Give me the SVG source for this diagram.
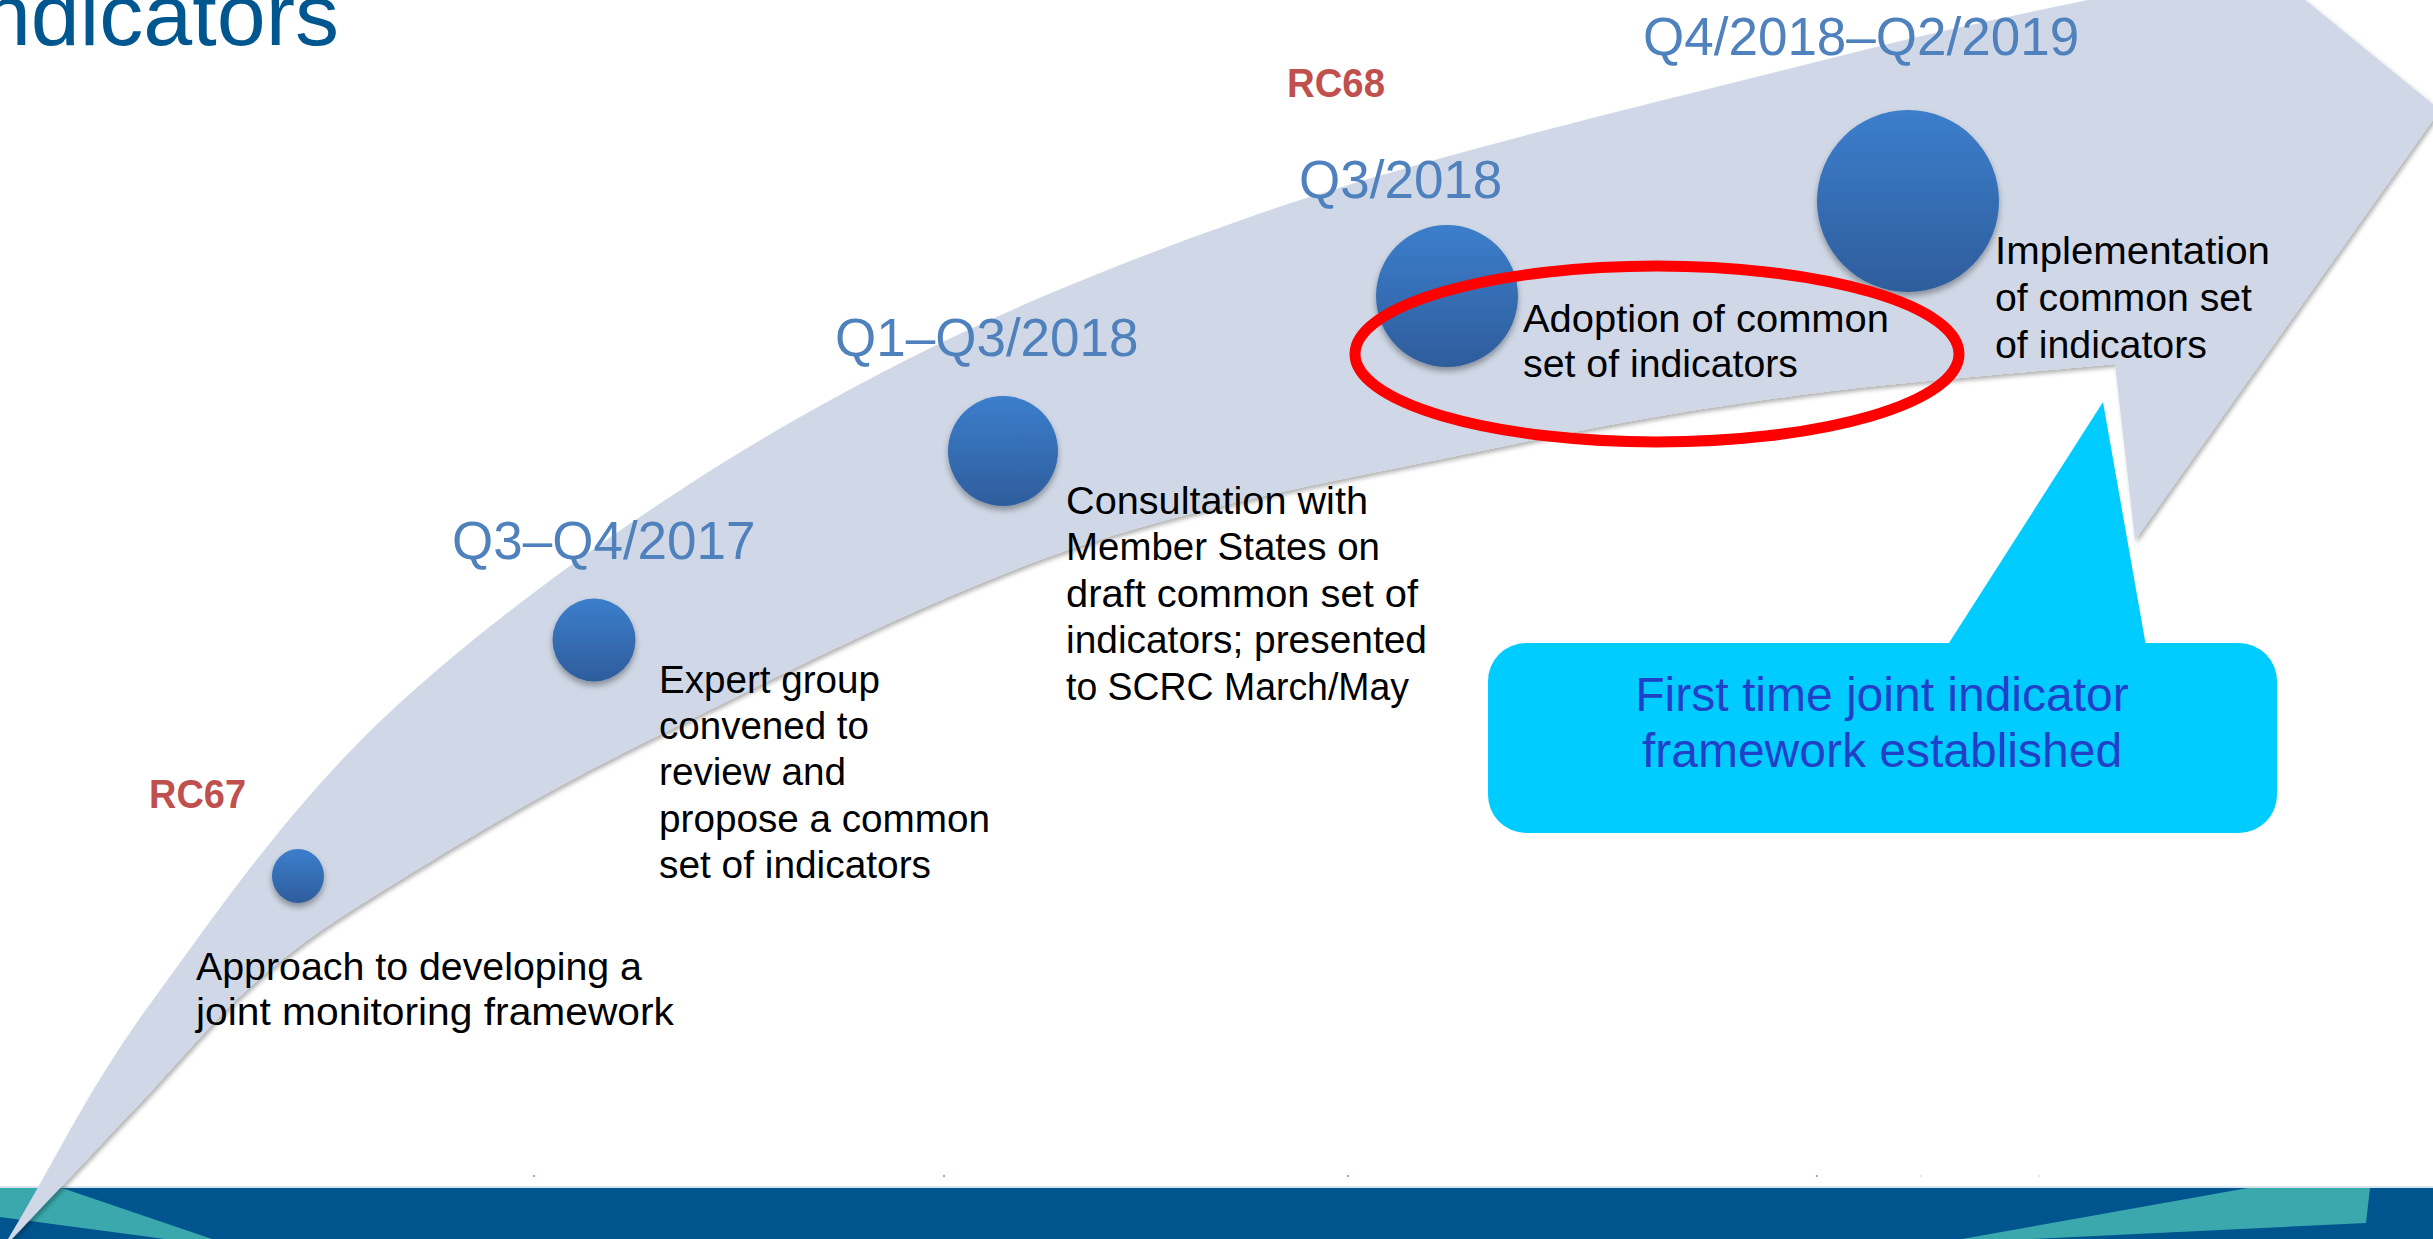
<svg xmlns="http://www.w3.org/2000/svg" width="2433" height="1239" viewBox="0 0 2433 1239">
  <defs>
    <style>
      .body { font-family: "Liberation Sans", Arial, sans-serif; font-size: 38px; fill: #000000; }
      .date { font-family: "Liberation Sans", Arial, sans-serif; font-size: 53px; fill: #4F81BD; }
      .rc { font-family: "Liberation Sans", Arial, sans-serif; font-size: 40px; font-weight: bold; fill: #C0504D; }
      .callout-text { font-family: "Liberation Sans", Arial, sans-serif; font-size: 48px; fill: #2040C8; }
      .dot { fill: url(#dotGrad); filter: url(#dotShadow); }
    </style>
    <linearGradient id="dotGrad" x1="0" y1="0" x2="0" y2="1">
      <stop offset="0" stop-color="#3C7ECC"/>
      <stop offset="1" stop-color="#2E5D9C"/>
    </linearGradient>
    <filter id="dotShadow" x="-30%" y="-30%" width="160%" height="170%">
      <feDropShadow dx="0" dy="4" stdDeviation="3" flood-color="#000000" flood-opacity="0.35"/>
    </filter>
    <filter id="arrowShadow" x="-5%" y="-5%" width="110%" height="110%">
      <feDropShadow dx="2" dy="3" stdDeviation="2" flood-color="#000000" flood-opacity="0.3"/>
    </filter>
  </defs>

  <rect x="0" y="0" width="2433" height="1239" fill="#FFFFFF"/>

  <!-- footer band -->
  <g id="footer">
    <rect x="0" y="1188" width="2433" height="51" fill="#00558F"/>
    <rect x="0" y="1186" width="2433" height="2" fill="#D8E4EE"/>
    <polygon points="0,1188 62,1188 212,1239 165,1239 0,1217" fill="#3AA8AD"/>
    <polygon points="2248,1188 2370,1188 2366,1223 2030,1239 1962,1239" fill="#3AA8AD"/>
    <g fill="#7FB2E5">
      <rect x="533" y="1175" width="2" height="2"/>
      <rect x="943" y="1175" width="2" height="2"/>
      <rect x="1347" y="1175" width="2" height="2"/>
      <rect x="1816" y="1175" width="2" height="2"/>
      <rect x="1920" y="1175" width="2" height="2" fill="#E3E8EE"/>
      <rect x="2038" y="1175" width="2" height="2" fill="#E3E8EE"/>
    </g>
  </g>

  <!-- timeline arrow -->
  <g id="connectors">
    <path id="timeline-arrow" filter="url(#arrowShadow)" fill="#D0D8E7"
      d="M 4,1252 L 8,1239
         C 56.3,1159.3 87.2,1089.8 153,1000
         C 218.8,910.2 295.2,797.2 403,700
         C 510.8,602.8 658.8,497.5 800,417
         C 941.2,336.5 1079.3,276.5 1250,217
         C 1420.7,157.5 1669,99.5 1824,60
         C 1979,20.5 2061.3,6.7 2180,-20
         L 2060,-200 L 2440,110 L 2135,540 L 2115,364
         C 2010,374.3 1902.5,381.2 1800,395
         C 1697.5,408.8 1622,421.2 1500,447
         C 1378,472.8 1209.8,501.2 1068,550
         C 926.2,598.8 760.3,685 649,740
         C 537.7,795 464.8,840.3 400,880
         C 335.2,919.7 302.8,941.3 260,978
         C 217.2,1014.7 184.3,1056.5 143,1100
         C 101.7,1143.5 55.7,1192.7 12,1239
         L 4,1252 Z"/>
  </g>

  <!-- title fragment -->
  <text id="title" x="339" y="45" text-anchor="end" font-family="'Liberation Sans', Arial, sans-serif" font-size="88" fill="#00568F">ndicators</text>

  <!-- milestone 1 -->
  <g id="node-rc67">
    <text class="rc" x="149" y="808" textLength="97" lengthAdjust="spacingAndGlyphs">RC67</text>
    <ellipse class="dot" cx="298" cy="876" rx="26" ry="27"/>
    <text class="body" x="196" y="980" textLength="446" lengthAdjust="spacingAndGlyphs">Approach to developing a</text>
    <text class="body" x="196" y="1025" textLength="478" lengthAdjust="spacingAndGlyphs">joint monitoring framework</text>
  </g>

  <!-- milestone 2 -->
  <g id="node-q3q4-2017">
    <text class="date" x="452" y="559">Q3–Q4/2017</text>
    <ellipse class="dot" cx="594" cy="640" rx="41.5" ry="41.5"/>
    <text class="body" x="659" y="693" textLength="221" lengthAdjust="spacingAndGlyphs">Expert group</text>
    <text class="body" x="659" y="739" textLength="210" lengthAdjust="spacingAndGlyphs">convened to</text>
    <text class="body" x="659" y="785" textLength="187" lengthAdjust="spacingAndGlyphs">review and</text>
    <text class="body" x="659" y="832" textLength="331" lengthAdjust="spacingAndGlyphs">propose a common</text>
    <text class="body" x="659" y="878" textLength="272" lengthAdjust="spacingAndGlyphs">set of indicators</text>
  </g>

  <!-- milestone 3 -->
  <g id="node-q1q3-2018">
    <text class="date" x="835" y="356">Q1–Q3/2018</text>
    <ellipse class="dot" cx="1003" cy="451" rx="55" ry="55"/>
    <text class="body" x="1066" y="514" textLength="302" lengthAdjust="spacingAndGlyphs">Consultation with</text>
    <text class="body" x="1066" y="560" textLength="314" lengthAdjust="spacingAndGlyphs">Member States on</text>
    <text class="body" x="1066" y="607" textLength="352" lengthAdjust="spacingAndGlyphs">draft common set of</text>
    <text class="body" x="1066" y="653" textLength="361" lengthAdjust="spacingAndGlyphs">indicators; presented</text>
    <text class="body" x="1066" y="700" textLength="343" lengthAdjust="spacingAndGlyphs">to SCRC March/May</text>
  </g>

  <!-- milestone 4 -->
  <g id="node-q3-2018">
    <text class="rc" x="1287" y="97" textLength="98" lengthAdjust="spacingAndGlyphs">RC68</text>
    <text class="date" x="1299" y="198">Q3/2018</text>
    <ellipse class="dot" cx="1447" cy="296" rx="71" ry="71"/>
    <text class="body" x="1523" y="332" textLength="366" lengthAdjust="spacingAndGlyphs">Adoption of common</text>
    <text class="body" x="1523" y="377" textLength="275" lengthAdjust="spacingAndGlyphs">set of indicators</text>
  </g>

  <!-- milestone 5 -->
  <g id="node-q4-2018-q2-2019">
    <text class="date" x="1643" y="55">Q4/2018–Q2/2019</text>
    <ellipse class="dot" cx="1908" cy="201" rx="91" ry="91"/>
    <text class="body" x="1995" y="264" textLength="275" lengthAdjust="spacingAndGlyphs">Implementation</text>
    <text class="body" x="1995" y="311" textLength="257" lengthAdjust="spacingAndGlyphs">of common set</text>
    <text class="body" x="1995" y="358" textLength="212" lengthAdjust="spacingAndGlyphs">of indicators</text>
  </g>

  <!-- highlight ellipse -->
  <g id="highlight">
    <ellipse cx="1657" cy="354" rx="302" ry="88" fill="none" stroke="#FF0000" stroke-width="11"/>
  </g>

  <!-- callout -->
  <g id="callout">
    <rect x="1488" y="643" width="789" height="190" rx="38" ry="38" fill="#00CCFF"/>
    <polygon points="1947,646 2103,402 2146,646" fill="#00CCFF"/>
    <text class="callout-text" x="1882" y="711" text-anchor="middle">First time joint indicator</text>
    <text class="callout-text" x="1882" y="767" text-anchor="middle">framework established</text>
  </g>
</svg>
